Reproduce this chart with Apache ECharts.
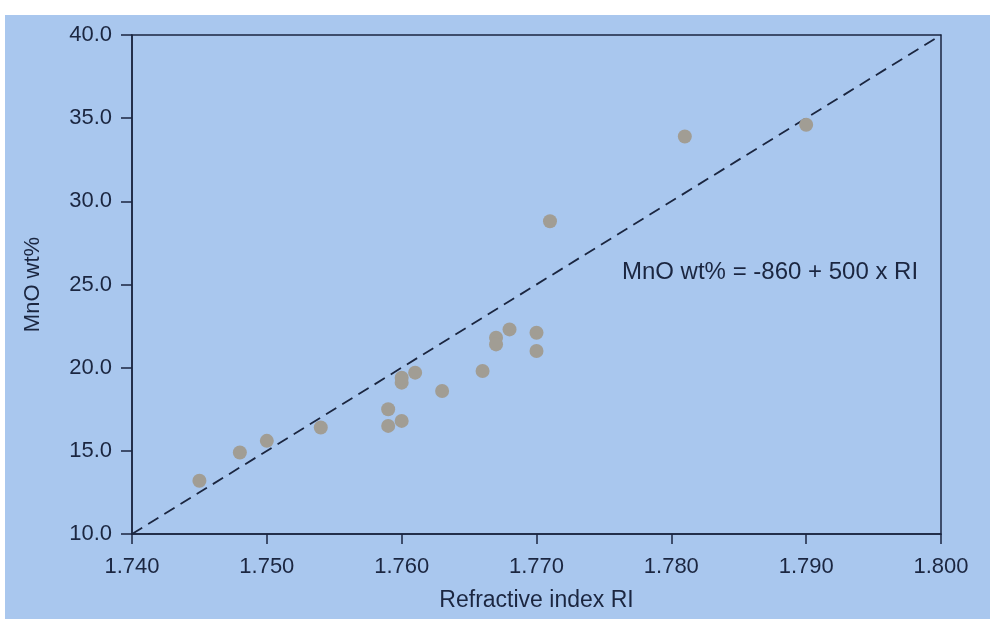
<!DOCTYPE html>
<html>
<head>
<meta charset="utf-8">
<script src="https://cdn.jsdelivr.net/npm/echarts@6/dist/echarts.min.js"></script>
<style>
html,body{margin:0;padding:0;background:#ffffff;}
#chart{width:990px;height:619px;}
</style>
</head>
<body>
<div id="chart"></div>
<script>
// Data
var riValues  = [1.745, 1.748, 1.750, 1.754, 1.759, 1.759, 1.760, 1.760, 1.760, 1.761, 1.763, 1.766, 1.767, 1.767, 1.768, 1.770, 1.770, 1.771, 1.781, 1.790];
var mnoValues = [13.2, 14.9, 15.6, 16.4, 17.5, 16.5, 16.8, 19.1, 19.4, 19.7, 18.6, 19.8, 21.8, 21.4, 22.3, 22.1, 21.0, 28.8, 33.9, 34.6];
var fitLineX = [1.740, 1.800];
var fitLineY = [10.0, 40.0];
var xTickLabels = ['1.740', '1.750', '1.760', '1.770', '1.780', '1.790', '1.800'];
var yTickLabels = ['10.0', '15.0', '20.0', '25.0', '30.0', '35.0', '40.0'];
var equationText = 'MnO wt% = -860 + 500 x RI';
var equationAnchor = [1.7763, 25.7];

var points = riValues.map(function (x, i) { return [x, mnoValues[i]]; });
var linePts = fitLineX.map(function (x, i) { return [x, fitLineY[i]]; });

var ink = '#1b2640';
var font = '"Liberation Sans", Arial, sans-serif';

var chart = echarts.init(document.getElementById('chart'), null, {renderer: 'canvas'});
chart.setOption({
  backgroundColor: '#ffffff',
  animation: false,
  graphic: [{
    type: 'rect', z: -100, silent: true,
    shape: {x: 5, y: 15, width: 990, height: 619},
    style: {fill: '#a9c7ee'}
  }],
  grid: {
    left: 132, right: 49, top: 35, bottom: 85,
    show: true, borderColor: ink, borderWidth: 1.5, backgroundColor: 'transparent'
  },
  xAxis: {
    type: 'value', min: 1.740, max: 1.800, interval: 0.010,
    name: 'Refractive index RI', nameLocation: 'middle', nameGap: 55,
    nameTextStyle: {fontFamily: font, fontSize: 23, color: ink},
    axisLine: {show: true, onZero: false, lineStyle: {color: ink, width: 1.5}},
    axisTick: {show: true, length: 10, lineStyle: {color: ink, width: 1.5}},
    splitLine: {show: false},
    axisLabel: {
      fontFamily: font, fontSize: 22, color: ink, margin: 22,
      formatter: function (v) {
        var idx = Math.round((v - 1.740) / 0.010);
        return xTickLabels[idx] !== undefined ? xTickLabels[idx] : '';
      }
    }
  },
  yAxis: {
    type: 'value', min: 10, max: 40, interval: 5,
    name: 'MnO wt%', nameLocation: 'middle', nameGap: 88,
    nameTextStyle: {fontFamily: font, fontSize: 22, color: ink},
    axisLine: {show: true, onZero: false, lineStyle: {color: ink, width: 1.5}},
    axisTick: {show: true, length: 11, lineStyle: {color: ink, width: 1.5}},
    splitLine: {show: false},
    axisLabel: {
      fontFamily: font, fontSize: 22, color: ink, margin: 20,
      formatter: function (v) {
        var idx = Math.round((v - 10) / 5);
        return yTickLabels[idx] !== undefined ? yTickLabels[idx] : '';
      }
    }
  },
  series: [
    {
      type: 'line', data: linePts, symbol: 'none', silent: true,
      lineStyle: {color: ink, width: 1.8, type: [12, 7]}, z: 2
    },
    {
      type: 'scatter', data: points, symbol: 'circle', symbolSize: 14,
      itemStyle: {color: '#a19d94', opacity: 1}, z: 3
    },
    {
      type: 'scatter', data: [equationAnchor], symbolSize: 1, silent: true,
      itemStyle: {color: 'rgba(0,0,0,0)'},
      label: {
        show: true, position: 'right', distance: 0, opacity: 1,
        formatter: equationText,
        fontFamily: font, fontSize: 24, color: ink
      }, z: 4
    }
  ]
});
</script>
</body>
</html>
